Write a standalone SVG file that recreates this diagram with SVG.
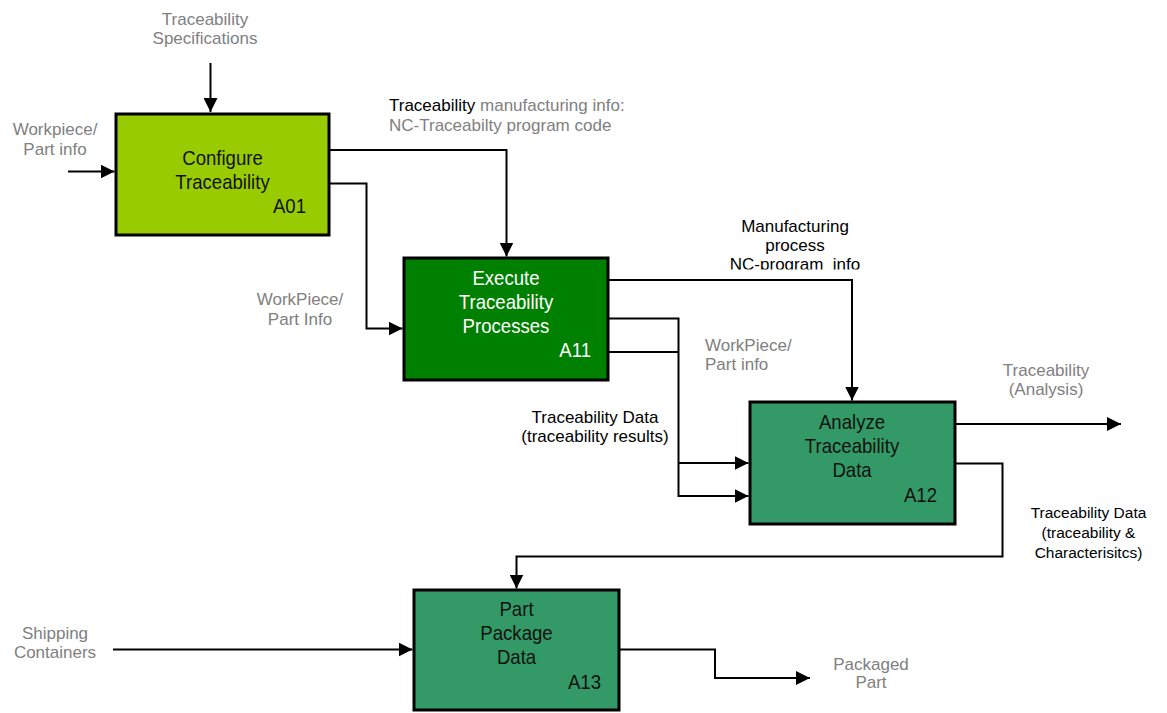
<svg xmlns="http://www.w3.org/2000/svg" width="1167" height="713" viewBox="0 0 1167 713">
<style>
.lbl{font-family:"Liberation Sans",Arial,sans-serif;font-size:17px;}
.gray{fill:#808080;}
.blk{fill:#000;}
.box{stroke:#000;stroke-width:3;}
.bt{font-family:"Liberation Sans",Arial,sans-serif;font-size:20px;text-anchor:middle;}
.bid{font-family:"Liberation Sans",Arial,sans-serif;font-size:20px;text-anchor:end;}
.con{fill:none;stroke:#000;stroke-width:2;}
</style>
<defs>
<marker id="ah" markerWidth="14" markerHeight="14" refX="14" refY="7" orient="auto" markerUnits="userSpaceOnUse">
<path d="M0,0 L14,7 L0,14 z" fill="#000"/>
</marker>
<clipPath id="clipMfg"><rect x="700" y="200" width="200" height="69.5"/></clipPath>
</defs>
<rect width="1167" height="713" fill="#fff"/>

<g id="connectors">
<path class="con" d="M210.5,63 V112" marker-end="url(#ah)"/>
<path class="con" d="M68,171.5 H114.5" marker-end="url(#ah)"/>
<path class="con" d="M330,150 H506.5 V256.5" marker-end="url(#ah)"/>
<path class="con" d="M330,183.5 H366.5 V328.5 H402.5" marker-end="url(#ah)"/>
<path class="con" d="M609,280 H852 V400.5" marker-end="url(#ah)"/>
<path class="con" d="M609,318.5 H678.5 V496 H748.5" marker-end="url(#ah)"/>
<path class="con" d="M678.5,463 H748.5" marker-end="url(#ah)"/>
<path class="con" d="M609,352 H678.5"/>
<path class="con" d="M956,424 H1121" marker-end="url(#ah)"/>
<path class="con" d="M956,463.5 H1002.5 V556.5 H516.5 V588.5" marker-end="url(#ah)"/>
<path class="con" d="M113,649.5 H412.5" marker-end="url(#ah)"/>
<path class="con" d="M620,649.5 H715 V678 H810" marker-end="url(#ah)"/>
</g>

<g id="A01">
<rect class="box" x="116" y="114" width="213" height="121" fill="#99CC00"/>
<text class="bt" fill="#111" transform="translate(222.5,165) scale(0.93,1)">Configure</text>
<text class="bt" fill="#111" transform="translate(222.5,189) scale(0.93,1)">Traceability</text>
<text class="bid" fill="#111" transform="translate(306,213) scale(0.93,1)">A01</text>
</g>

<g id="A11">
<rect class="box" x="404" y="258" width="204" height="122" fill="#008000"/>
<text class="bt" fill="#fff" transform="translate(506,285) scale(0.93,1)">Execute</text>
<text class="bt" fill="#fff" transform="translate(506,309) scale(0.93,1)">Traceability</text>
<text class="bt" fill="#fff" transform="translate(506,333) scale(0.93,1)">Processes</text>
<text class="bid" fill="#fff" transform="translate(591,357) scale(0.93,1)">A11</text>
</g>

<g id="A12">
<rect class="box" x="750" y="402" width="205" height="122" fill="#339966"/>
<text class="bt" fill="#111" transform="translate(852,429) scale(0.93,1)">Analyze</text>
<text class="bt" fill="#111" transform="translate(852,453) scale(0.93,1)">Traceability</text>
<text class="bt" fill="#111" transform="translate(852,477) scale(0.93,1)">Data</text>
<text class="bid" fill="#111" transform="translate(937,502) scale(0.93,1)">A12</text>
</g>

<g id="A13">
<rect class="box" x="414" y="590" width="205" height="120" fill="#339966"/>
<text class="bt" fill="#111" transform="translate(516.5,616) scale(0.93,1)">Part</text>
<text class="bt" fill="#111" transform="translate(516.5,640) scale(0.93,1)">Package</text>
<text class="bt" fill="#111" transform="translate(516.5,664) scale(0.93,1)">Data</text>
<text class="bid" fill="#111" transform="translate(601,689) scale(0.93,1)">A13</text>
</g>

<g id="labels">
<text class="lbl gray" text-anchor="middle" x="205" y="25">Traceability</text>
<text class="lbl gray" text-anchor="middle" x="205" y="44">Specifications</text>
<text class="lbl gray" text-anchor="middle" x="55" y="135">Workpiece/</text>
<text class="lbl gray" text-anchor="middle" x="55" y="155">Part info</text>
<text class="lbl" x="389" y="111"><tspan class="blk">Traceability</tspan><tspan class="gray"> manufacturing info:</tspan></text>
<text class="lbl gray" x="389" y="131">NC-Traceabilty program code</text>
<text class="lbl gray" text-anchor="middle" x="300" y="305">WorkPiece/</text>
<text class="lbl gray" text-anchor="middle" x="300" y="325">Part Info</text>
<g clip-path="url(#clipMfg)">
<text class="lbl blk" text-anchor="middle" x="795" y="232">Manufacturing</text>
<text class="lbl blk" text-anchor="middle" x="795" y="251">process</text>
<text class="lbl blk" text-anchor="middle" x="795" y="270" style="white-space:pre">NC-program  info</text>
</g>
<text class="lbl gray" x="705" y="351">WorkPiece/</text>
<text class="lbl gray" x="705" y="370">Part info</text>
<text class="lbl blk" text-anchor="middle" x="595" y="423">Traceability Data</text>
<text class="lbl blk" text-anchor="middle" x="595" y="442">(traceability results)</text>
<text class="lbl gray" text-anchor="middle" x="1046" y="376">Traceability</text>
<text class="lbl gray" text-anchor="middle" x="1046" y="395">(Analysis)</text>
<text class="lbl blk" text-anchor="middle" x="1088.5" y="518" style="font-size:15.5px">Traceability Data</text>
<text class="lbl blk" text-anchor="middle" x="1088.5" y="538" style="font-size:15.5px">(traceability &amp;</text>
<text class="lbl blk" text-anchor="middle" x="1088.5" y="558" style="font-size:15.5px">Characterisitcs)</text>
<text class="lbl gray" text-anchor="middle" x="55" y="639">Shipping</text>
<text class="lbl gray" text-anchor="middle" x="55" y="658">Containers</text>
<text class="lbl gray" text-anchor="middle" x="871" y="670">Packaged</text>
<text class="lbl gray" text-anchor="middle" x="871" y="688">Part</text>
</g>
</svg>
